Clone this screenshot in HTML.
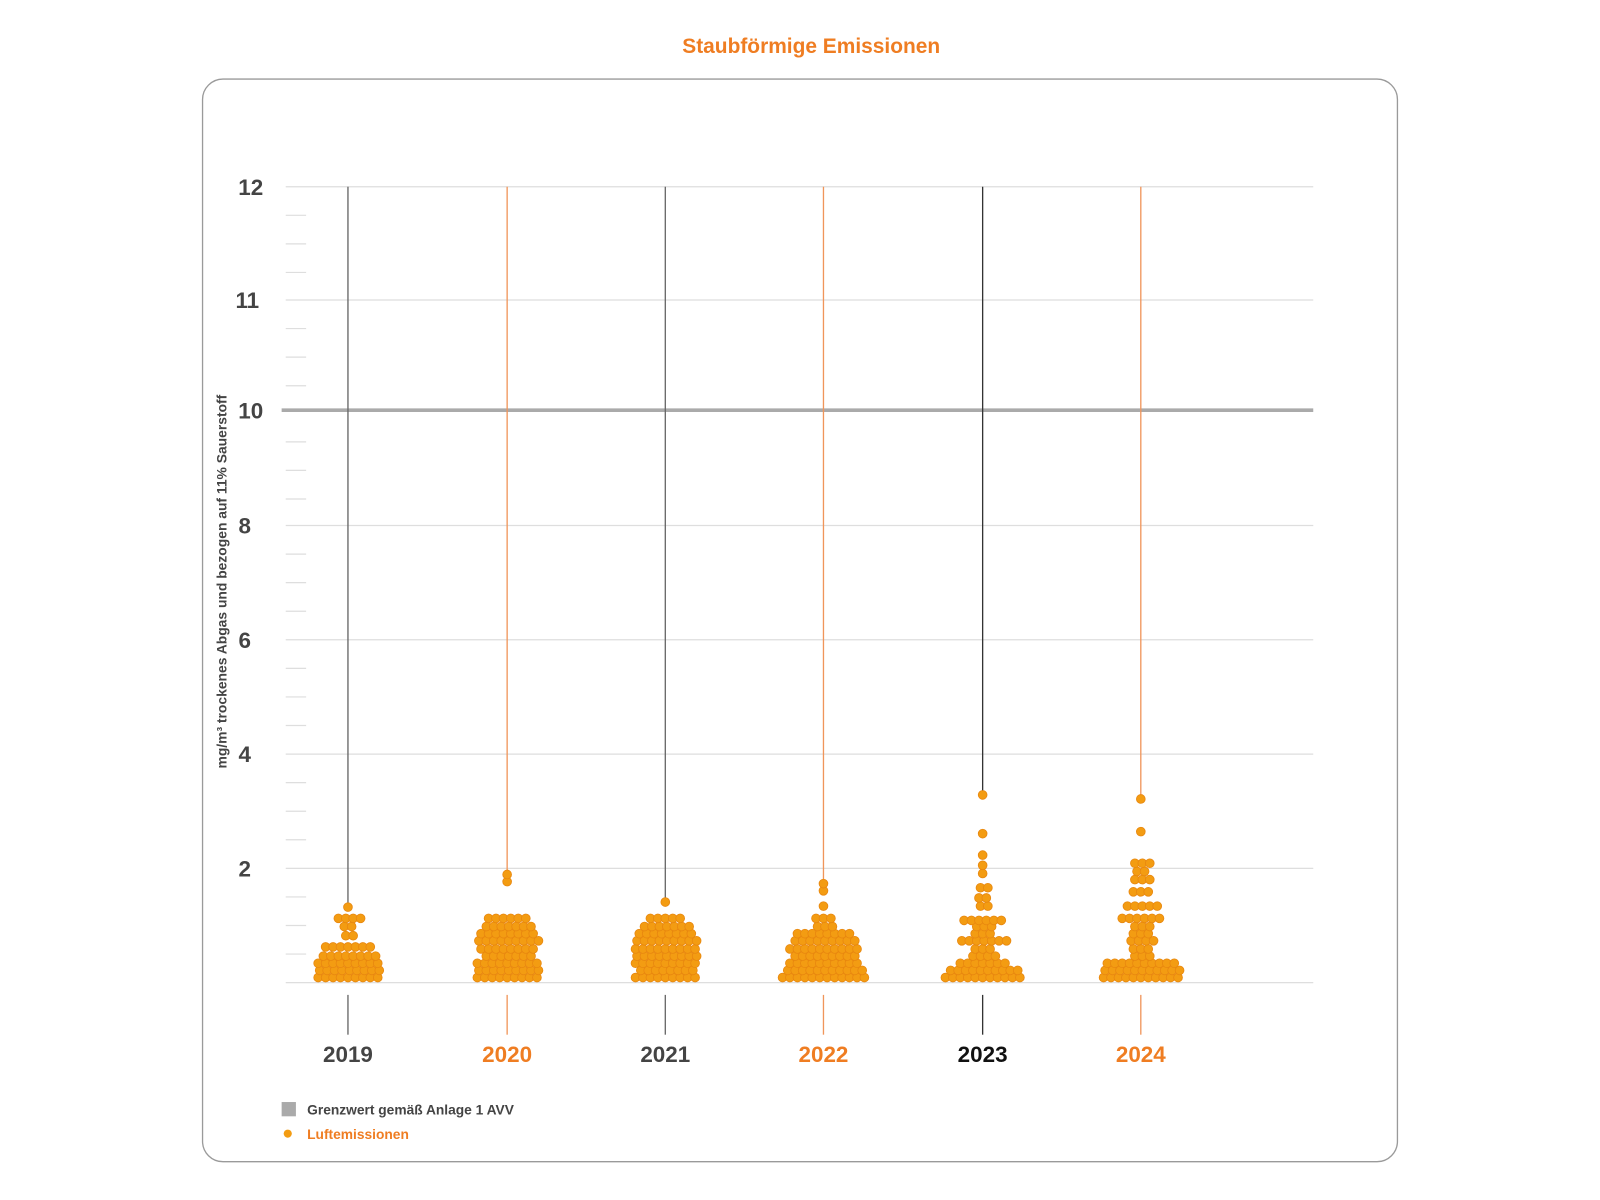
<!DOCTYPE html>
<html><head><meta charset="utf-8"><style>
html,body{margin:0;padding:0;background:#fff;}
svg{display:block;font-family:"Liberation Sans",sans-serif;}
</style></head><body>
<svg id="s" width="1600" height="1200" viewBox="0 0 1600 1200" xmlns="http://www.w3.org/2000/svg">
<g id="root" transform="scale(1.0204)">
<text x="795" y="52" text-anchor="middle" font-size="20.5" font-weight="bold" fill="#ef7d22">Staubförmige Emissionen</text>
<rect x="198.5" y="77.5" width="1171" height="1061" rx="20" fill="none" stroke="#9a9a9a" stroke-width="1.3"/>
<g stroke="#dedede" stroke-width="1.2">
<line x1="280" y1="183" x2="1287" y2="183"/>
<line x1="280" y1="294" x2="1287" y2="294"/>
<line x1="280" y1="515" x2="1287" y2="515"/>
<line x1="280" y1="627" x2="1287" y2="627"/>
<line x1="280" y1="739" x2="1287" y2="739"/>
<line x1="280" y1="851" x2="1287" y2="851"/>
<line x1="280" y1="963" x2="1287" y2="963"/>
</g>
<g id="minor" stroke="#dedede" stroke-width="1.2"></g>
<line x1="276" y1="402" x2="1287" y2="402" stroke="#aaaaaa" stroke-width="3.5"/>
<g font-size="22" font-weight="bold" fill="#444" text-anchor="end">
<text x="258" y="191">12</text><text x="254" y="302">11</text><text x="258" y="410">10</text>
<text x="246" y="523">8</text><text x="246" y="635">6</text><text x="246" y="747">4</text><text x="246" y="859">2</text>
</g>
<text transform="translate(222,570) rotate(-90)" text-anchor="middle" font-size="13.6" font-weight="bold" fill="#444">mg/m³ trockenes Abgas und bezogen auf 11% Sauerstoff</text>
<g id="years"></g>
<g id="dots"></g>
<rect x="276" y="1080" width="14" height="14" fill="#aaaaaa"/>
<text x="301" y="1092" font-size="13.5" font-weight="bold" fill="#444">Grenzwert gemäß Anlage 1 AVV</text>
<circle cx="282" cy="1111" r="4" fill="#f39c12"/>
<text x="301" y="1116" font-size="13.5" font-weight="bold" fill="#ef7d22">Luftemissionen</text>
</g>
</svg>
<script>
var NS="http://www.w3.org/2000/svg";
function el(p,t,a,txt){var e=document.createElementNS(NS,t);for(var k in a)e.setAttribute(k,a[k]);if(txt)e.textContent=txt;p.appendChild(e);return e;}
var mi=document.getElementById('minor');
[211,239,267,322,350,378,433,461,489,543,571,599,655,683,711,767,795,823,879,907,935].forEach(function(y){el(mi,'line',{x1:280,x2:300,y1:y,y2:y});});
var years=[
 {x:341,lbl:'2019',lc:'#666',tc:'#444',top:889,rows:[[958,9],[951,9],[944,9],[937,8],[928,7],[917,2],[908,2],[900,4],[889,1]]},
 {x:497,lbl:'2020',lc:'#f0955a',tc:'#ef7d22',top:857,rows:[[958,9],[951,9],[944,9],[937,7],[930,8],[922,9],[915,8],[908,7],[900,6],[864,1],[857,1]]},
 {x:652,lbl:'2021',lc:'#666',tc:'#444',top:884,rows:[[958,9],[951,8],[944,9],[937,9],[930,9],[922,9],[915,8],[908,7],[900,5],[884,1]]},
 {x:807,lbl:'2022',lc:'#f0955a',tc:'#ef7d22',top:866,rows:[[958,12],[951,11],[944,10],[937,9],[930,10],[922,9],[915,8],[908,3],[900,3],[888,1],[873,1],[866,1]]},
 {x:963,lbl:'2023',lc:'#333',tc:'#111',top:779,rows:[[958,11],[951,10],[944,7],[937,4],[930,3],[922,7],[915,3],[908,3],[902,6],[888,2],[880,2],[870,2],[856,1],[848,1],[838,1],[817,1],[779,1]]},
 {x:1118,lbl:'2024',lc:'#f0955a',tc:'#ef7d22',top:783,rows:[[958,11],[951,11],[944,10],[937,3],[930,3],[922,4],[915,3],[908,3],[900,6],[888,5],[874,3],[862,3],[854,2],[846,3],[815,1],[783,1]]}
];
var yg=document.getElementById('years'),dg=document.getElementById('dots');
years.forEach(function(Y){
 el(yg,'line',{x1:Y.x,x2:Y.x,y1:183,y2:Y.top,stroke:Y.lc,'stroke-width':1.3});
 el(yg,'line',{x1:Y.x,x2:Y.x,y1:975,y2:1014,stroke:Y.lc,'stroke-width':1.3});
 el(yg,'text',{x:Y.x,y:1041,'text-anchor':'middle','font-size':22,'font-weight':'bold',fill:Y.tc},Y.lbl);
 Y.rows.forEach(function(r,i){
  var n=r[1],sp=7.3,off=(i%2)?1.5:0;
  for(var j=0;j<n;j++){
   var cx=Y.x+(j-(n-1)/2)*sp+(n>1?off:0);
   el(dg,'circle',{cx:cx.toFixed(1),cy:r[0],r:4.3,fill:'#f39c12',stroke:'#e8870f','stroke-width':0.8});
  }
 });
});
</script>
</body></html>
